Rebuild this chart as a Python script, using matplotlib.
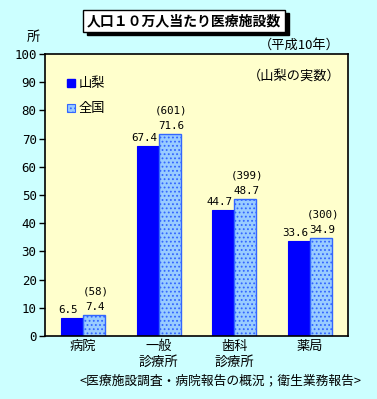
import numpy as np
import matplotlib.pyplot as plt
from matplotlib.patches import Rectangle

plt.rcParams['font.family'] = ['Noto Sans CJK JP', 'DejaVu Sans']
plt.rcParams['hatch.color'] = 'white'
plt.rcParams['hatch.linewidth'] = 0.8

categories = ['病院', '一般\n診療所', '歯科\n診療所', '薬局']
yamanashi = [6.5, 67.4, 44.7, 33.6]
national = [7.4, 71.6, 48.7, 34.9]
counts = ['(58)', '(601)', '(399)', '(300)']
yticks = [0, 10, 20, 30, 40, 50, 60, 70, 80, 90, 100]

fig = plt.figure(figsize=(3.77, 3.99), dpi=100)
fig.patch.set_facecolor('#CCFFFF')
ax = fig.add_axes([45/377, 63/399, 303/377, 282/399])
ax.set_facecolor('#FFFFCC')

x = np.arange(len(categories))
w = 0.29
ax.bar(x - w/2, yamanashi, w, color='#0000FF', edgecolor='#0000FF', linewidth=0.8)
ax.bar(x + w/2, national, w, color='#99CCFF', edgecolor='#3366FF', linewidth=1.0,
       hatch='....')

mono = 'DejaVu Sans Mono'
for i in range(len(categories)):
    ax.text(x[i] - w/2 - 0.05, yamanashi[i] + 1.0, '%.1f' % yamanashi[i], ha='center', va='bottom',
            fontsize=7.8, family=mono)
    ax.text(x[i] + w/2 + 0.02, national[i] + 1.0, '%.1f' % national[i], ha='center', va='bottom',
            fontsize=7.8, family=mono)
    ax.text(x[i] + w/2 + 0.02, national[i] + 6.5, counts[i], ha='center', va='bottom',
            fontsize=7.8, family=mono)

ax.set_xlim(-0.5, 3.5)
ax.set_ylim(0, 100)
ax.set_yticks(yticks)
ax.set_yticklabels([str(t) for t in yticks], family=mono, fontsize=9)
ax.set_xticks(x)
ax.set_xticklabels(categories, fontsize=9.5, linespacing=1.3)
ax.tick_params(axis='x', length=0, pad=3)
ax.tick_params(axis='y', length=4, width=1, direction='out', pad=2)
for s in ax.spines.values():
    s.set_linewidth(1.2)

# legend
ax.add_patch(Rectangle((-0.21, 88.3), 0.106, 2.84, color='#0000FF'))
ax.text(-0.06, 89.7, '山梨', fontsize=9.5, va='center')
ax.add_patch(Rectangle((-0.21, 79.4), 0.106, 2.84, facecolor='#99CCFF', edgecolor='#3366FF',
                       hatch='....', linewidth=0.8))
ax.text(-0.06, 80.8, '全国', fontsize=9.5, va='center')
ax.text(3.40, 92.2, '（山梨の実数）', fontsize=9.5, ha='right', va='center')

fig.text(340/377, 1 - 45/399, '（平成10年）', fontsize=9.5, ha='right', va='center')
fig.text(33/377, 1 - 37/399, '所', fontsize=9.5, ha='center', va='center')
fig.text(362/377, 1 - 381/399, '<医療施設調査・病院報告の概況；衛生業務報告>', fontsize=9.2,
         ha='right', va='center')

# title box with shadow
fig.patches.append(Rectangle((87/377, 1 - 35/399), 202/377, 22/399, transform=fig.transFigure,
                             facecolor='black', edgecolor='black'))
fig.patches.append(Rectangle((83/377, 1 - 32/399), 202/377, 22/399, transform=fig.transFigure,
                             facecolor='white', edgecolor='black', linewidth=1))
fig.text(184/377, 1 - 21/399, '人口１０万人当たり医療施設数', fontsize=10, fontweight='bold',
         ha='center', va='center')

fig.savefig('out.png', dpi=100, facecolor=fig.get_facecolor())
